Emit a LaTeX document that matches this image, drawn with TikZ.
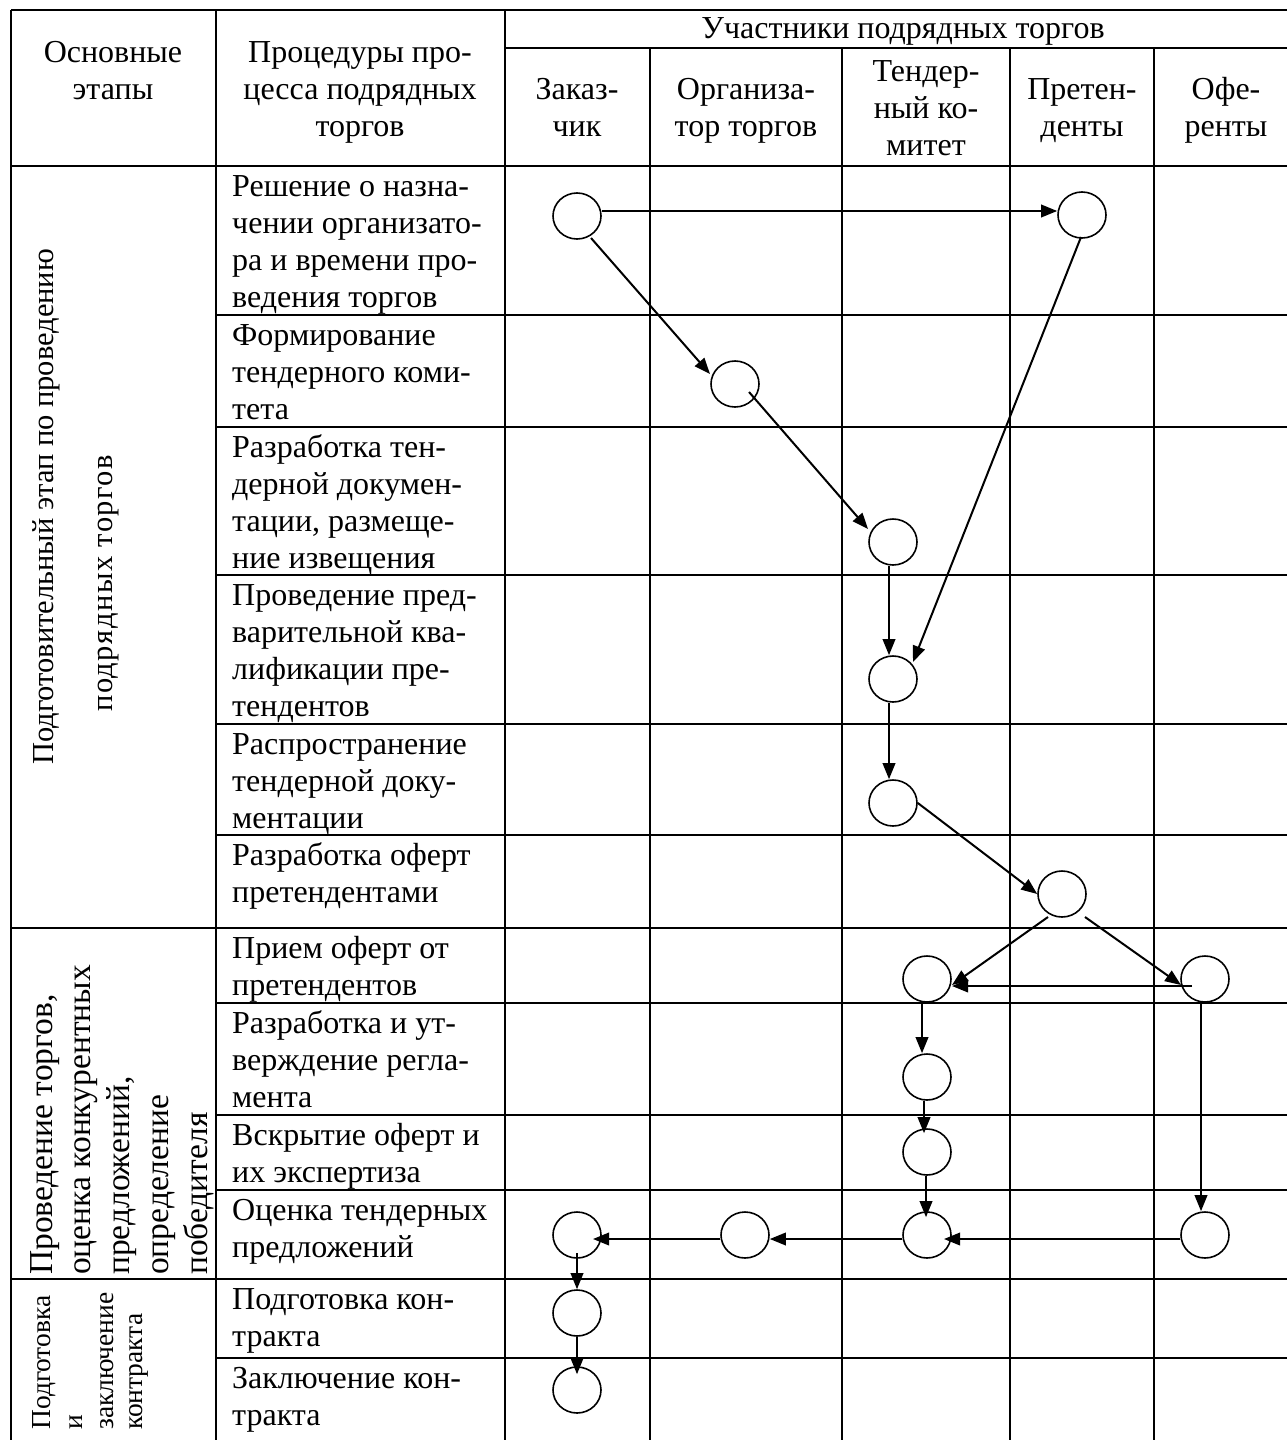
\documentclass[tikz,border=0pt]{standalone}
\usepackage{fontspec}
\setmainfont{Liberation Serif}
\newfontfamily\spacedserif[LetterSpace=5]{Liberation Serif}
\usetikzlibrary{arrows.meta,shapes.geometric,calc}
\begin{document}
\begin{tikzpicture}[x=1pt,y=-1pt,
  gridline/.style={line width=2pt},
  circ/.style={ellipse,draw,line width=1.6pt,minimum width=48pt,minimum height=46pt,inner sep=0pt},
  arr/.style={line width=2pt,-{Triangle[length=16pt,width=12.5pt]}},
  txt/.style={font=\fontsize{32}{37}\selectfont,inner sep=0pt},
  cell/.style={txt,anchor=base west,align=left},
  head/.style={txt,anchor=base,align=center},
  vtxt/.style={font=\fontsize{30.5}{37}\selectfont,inner sep=0pt,rotate=90,anchor=base west},
  wtxt/.style={font=\fontsize{33.5}{38}\selectfont,inner sep=0pt,rotate=90,anchor=base west},
  stxt/.style={font=\fontsize{27.5}{31}\selectfont,inner sep=0pt,rotate=90,anchor=base west}
]
\useasboundingbox (0,0) rectangle (1287,1440);
% grid
\draw[gridline] (11,10) -- (1287,10);
\draw[gridline] (505,48) -- (1287,48);
\foreach \y in {166,928,1279} \draw[gridline] (11,\y) -- (1287,\y);
\foreach \y in {315,427,575,724,835,1003,1115,1190,1358} \draw[gridline] (216,\y) -- (1287,\y);
\foreach \x in {11,216,505} \draw[gridline] (\x,10) -- (\x,1440);
\foreach \x in {650,842,1010,1154} \draw[gridline] (\x,48) -- (\x,1440);
% headers (anchor = baseline of last line)
\node[head] (h1) at (113,99) {Основные\\этапы};
\node[head] (h2) at (360,136) {Процедуры про-\\цесса подрядных\\торгов};
\node[head] (h3) at (903,38) {Участники подрядных торгов};
\node[head] (p1) at (577,136) {Заказ-\\чик};
\node[head] (p2) at (746,136) {Организа-\\тор торгов};
\node[head] (p3) at (926,155) {Тендер-\\ный ко-\\митет};
\node[head] (p4) at (1082,136) {Претен-\\денты};
\node[head] (p5) at (1226,136) {Офе-\\ренты};
% procedure cells (anchor = baseline of last line)
\node[cell] (c1) at (232,307) {Решение о назна-\\чении организато-\\ра и времени про-\\ведения торгов};
\node[cell] (c2) at (232,419) {Формирование\\тендерного коми-\\тета};
\node[cell] (c3) at (232,568) {Разработка тен-\\дерной докумен-\\тации, размеще-\\ние извещения};
\node[cell] (c4) at (232,716) {Проведение пред-\\варительной ква-\\лификации пре-\\тендентов};
\node[cell] (c5) at (232,828) {Распространение\\тендерной доку-\\ментации};
\node[cell] (c6) at (232,902) {Разработка оферт\\претендентами};
\node[cell] (c7) at (232,995) {Прием оферт от\\претендентов};
\node[cell] (c8) at (232,1107) {Разработка и ут-\\верждение регла-\\мента};
\node[cell] (c9) at (232,1182) {Вскрытие оферт и\\их экспертиза};
\node[cell] (c10) at (232,1257) {Оценка тендерных\\предложений};
\node[cell] (c11) at (232,1346) {Подготовка кон-\\тракта};
\node[cell] (c12) at (232,1425) {Заключение кон-\\тракта};
% stage texts
\node[vtxt] (s1a) at (53,765) {Подготовительный этап по проведению};
\node[vtxt] (s1b) at (112,712) {\spacedserif подрядных торгов};
\node[wtxt] (s2a) at (52,1275) {Проведение торгов,};
\node[wtxt] (s2b) at (90,1275) {оценка конкурентных};
\node[wtxt] (s2c) at (129,1275) {предложений,};
\node[wtxt] (s2d) at (168,1275) {определение};
\node[wtxt] (s2e) at (207,1275) {победителя};
\node[stxt] (s3a) at (50,1430) {Подготовка};
\node[stxt] (s3b) at (82,1430) {и};
\node[stxt] (s3c) at (113,1430) {заключение};
\node[stxt] (s3d) at (142,1430) {контракта};
% circles
\node[circ] (Z1) at (577,216) {};
\node[circ] (P1) at (1082,215) {};
\node[circ] (O1) at (735,384) {};
\node[circ] (T1) at (893,542) {};
\node[circ] (T2) at (893,679) {};
\node[circ] (T3) at (893,803) {};
\node[circ] (P2) at (1062,894) {};
\node[circ] (T4) at (927,979) {};
\node[circ] (F1) at (1205,979) {};
\node[circ] (T5) at (927,1077) {};
\node[circ] (T6) at (927,1152) {};
\node[circ] (Z4) at (577,1235) {};
\node[circ] (O2) at (745,1235) {};
\node[circ] (T7) at (927,1235) {};
\node[circ] (F2) at (1205,1235) {};
\node[circ] (Z5) at (577,1313) {};
\node[circ] (Z6) at (577,1390) {};
% arrows
\draw[arr] ($(Z1.east)+(0,-5)$) -- ($(P1.west)+(0,-4)$);
\draw[arr] ($(Z1)+(14,22)$) -- ($(O1)+(-25,-10)$);
\draw[arr] ($(O1)+(14,8)$) -- ($(T1)+(-25,-13)$);
\draw[arr] ($(T1.south)+(-4,0)$) -- ($(T2.north)+(-4,0)$);
\draw[arr] ($(P1)+(-1,22)$) -- ($(T2)+(20,-17)$);
\draw[arr] ($(T2.south)+(-4,0)$) -- ($(T3.north)+(-4,0)$);
\draw[arr] (T3.east) -- (P2.west);
\draw[arr] ($(P2)+(-14,23)$) -- ($(T4)+(25,6)$);
\draw[arr] ($(P2)+(23,23)$) -- ($(F1)+(-24,6)$);
\draw[arr] ($(F1)+(-13,7)$) -- ($(T4)+(25,7)$);
\draw[arr] ($(T4.south)+(-5,0)$) -- ($(T5.north)+(-5,0)$);
\draw[arr] ($(T5.south)+(-3,0)$) -- ($(T6.north)+(-3,5)$);
\draw[arr] ($(T6.south)+(-1,0)$) -- ($(T7.north)+(-1,6)$);
\draw[arr] ($(F1.south)+(-4,0)$) -- ($(F2.north)+(-4,0)$);
\draw[arr] ($(F2.west)+(0,4)$) -- ($(T7)+(17,4)$);
\draw[arr] ($(T7.west)+(0,4)$) -- ($(O2.east)+(0,4)$);
\draw[arr] ($(O2.west)+(0,4)$) -- ($(Z4)+(16,4)$);
\draw[arr] ($(Z4)+(0,18)$) -- (Z5.north);
\draw[arr] (Z5.south) -- ($(Z6.north)+(0,8)$);
\end{tikzpicture}
\end{document}
